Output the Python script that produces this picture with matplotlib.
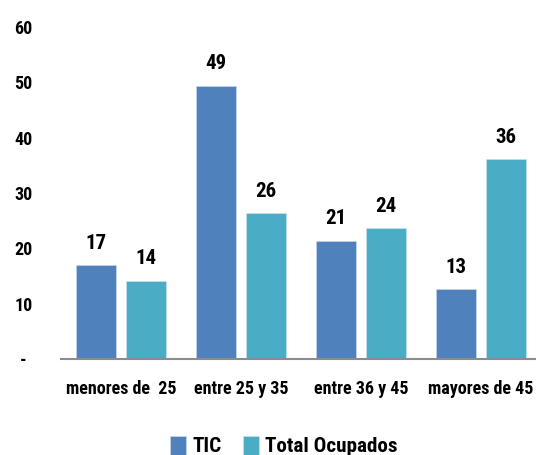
import numpy as np
import matplotlib
matplotlib.use("Agg")
import matplotlib.pyplot as plt
from matplotlib import font_manager

# narrow font is closest to the Calibri look of the original; fall back if missing
names = set(f.name for f in font_manager.fontManager.ttflist)
narrow = [n for n in ["Liberation Sans Narrow", "Roboto Condensed", "Open Sans Condensed"] if n in names]
plt.rcParams['font.family'] = narrow + ['Liberation Sans', 'DejaVu Sans']
plt.rcParams['font.weight'] = 'bold'
scale = 1.0 if narrow else 0.85

categories = ["menores de  25", "entre 25 y 35", "entre 36 y 45", "mayores de 45"]
tic = [16.9, 49.4, 21.4, 12.6]
total_ocupados = [14.1, 26.3, 23.6, 36.1]
yticks = [0, 10, 20, 30, 40, 50, 60]
ytick_labels = ["-", "10", "20", "30", "40", "50", "60"]

blue = "#4F81BD"
teal = "#4BACC6"

fig = plt.figure(figsize=(5.36, 4.55), dpi=100)
ax = fig.add_axes([0.1138, 0.211, 0.8955, 0.7297])

x = np.arange(len(categories))
w = 0.33
b1 = ax.bar(x - 0.21, tic, w, color=blue, edgecolor="#c9d6ea", linewidth=0.5, label="TIC")
b2 = ax.bar(x + 0.21, total_ocupados, w, color=teal, edgecolor="#c6e4ee", linewidth=0.5, label="Total Ocupados")

for bars in (b1, b2):
    for r in bars:
        h = r.get_height()
        ax.annotate("%d" % round(h), (r.get_x() + r.get_width() / 2, h),
                    xytext=(0, 9), textcoords="offset points",
                    ha="center", va="bottom", fontsize=15, fontweight="bold")

ax.set_xlim(-0.5, 3.5)
ax.set_ylim(0, 60)
ax.set_yticks(yticks)
ax.set_yticklabels(ytick_labels, fontsize=13, fontweight="bold")
for t in ax.get_yticklabels():
    t.set_horizontalalignment("center")
ax.tick_params(axis="y", length=0, pad=27)
ax.set_xticks(x)
ax.set_xticklabels(categories, fontsize=13 * scale, fontweight="bold")
ax.tick_params(axis="x", length=0, pad=15)

for s in ["top", "right", "left"]:
    ax.spines[s].set_visible(False)
ax.spines["bottom"].set_color("#8c8c8c")
ax.spines["bottom"].set_linewidth(1.5)

fig.legend(loc="lower center", bbox_to_anchor=(0.53, -0.045), ncol=2, frameon=False,
           prop={"size": 15.2 * scale, "weight": "bold"}, handlelength=0.75, handleheight=1.0,
           handletextpad=0.3, columnspacing=1.0)

fig.savefig("out.png", dpi=100)
